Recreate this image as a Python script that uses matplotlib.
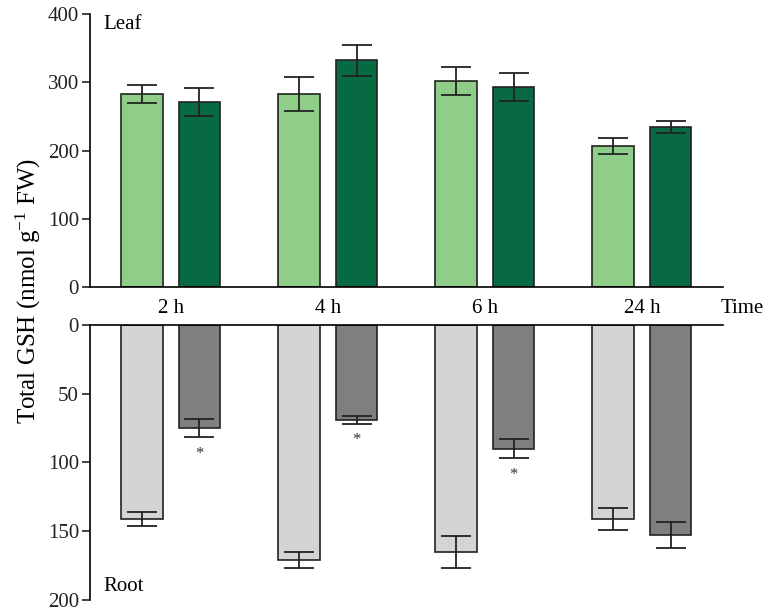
import matplotlib
matplotlib.use("Agg")
import matplotlib.pyplot as plt
import numpy as np

plt.rcParams['font.family'] = ['Liberation Serif', 'DejaVu Serif']
plt.rcParams['mathtext.fontset'] = 'custom'
plt.rcParams['mathtext.rm'] = 'Liberation Serif'
plt.rcParams['mathtext.it'] = 'Liberation Serif:italic'

times = ["2 h", "4 h", "6 h", "24 h"]
leaf_ctrl = [283, 283, 302, 207]
leaf_ctrl_err = [13, 25, 21, 12]
leaf_trt = [271, 332, 293, 235]
leaf_trt_err = [21, 23, 20, 9]
root_ctrl = [141, 171, 165, 141]
root_ctrl_err = [5, 6, 11.5, 8]
root_trt = [75, 69, 90, 152.5]
root_trt_err = [6.5, 3, 7, 9.5]
root_sig = [True, True, True, False]

c_leaf1 = "#8fce89"
c_leaf2 = "#086a42"
c_root1 = "#d4d4d4"
c_root2 = "#7f7f7f"

fig = plt.figure(figsize=(7.7, 6.16), dpi=100)
ax1 = fig.add_axes([0.117, 0.5336, 0.822, 0.4437])
ax2 = fig.add_axes([0.117, 0.026, 0.822, 0.4464])

x = np.arange(len(times))
w = 0.264
off = 0.183
ekw = dict(elinewidth=1.3, capthick=1.3, ecolor="#222222")

ax1.bar(x - off, leaf_ctrl, w, color=c_leaf1, edgecolor="#222222", linewidth=1.2,
        yerr=leaf_ctrl_err, capsize=11, error_kw=ekw, zorder=2)
ax1.bar(x + off, leaf_trt, w, color=c_leaf2, edgecolor="#222222", linewidth=1.2,
        yerr=leaf_trt_err, capsize=11, error_kw=ekw, zorder=2)
ax2.bar(x - off, root_ctrl, w, color=c_root1, edgecolor="#222222", linewidth=1.2,
        yerr=root_ctrl_err, capsize=11, error_kw=ekw, zorder=2)
ax2.bar(x + off, root_trt, w, color=c_root2, edgecolor="#222222", linewidth=1.2,
        yerr=root_trt_err, capsize=11, error_kw=ekw, zorder=2)

for i, s in enumerate(root_sig):
    if s:
        ax2.text(x[i] + off, root_trt[i] + root_trt_err[i] + 12, "*",
                 ha="center", va="center", fontsize=12, color="#333333")

for ax in (ax1, ax2):
    ax.set_xlim(-0.513, 3.516)
    ax.spines['right'].set_visible(False)
    ax.spines['left'].set_linewidth(1.2)
    ax.tick_params(axis='y', direction='out', length=6, width=1.2, labelsize=15, pad=2, colors="#222222")
    ax.tick_params(axis='x', length=0)
    ax.set_xticks([])

ax1.set_ylim(0, 400)
ax1.set_yticks([0, 100, 200, 300, 400])
ax1.spines['top'].set_visible(False)
ax1.spines['bottom'].set_linewidth(1.2)
ax1.text(-0.43, 385, "Leaf", fontsize=15, va="center", ha="left")

ax2.set_ylim(200, 0)
ax2.set_yticks([0, 50, 100, 150, 200])
ax2.spines['bottom'].set_visible(False)
ax2.spines['top'].set_linewidth(1.2)
ax2.text(-0.43, 190, "Root", fontsize=15, va="center", ha="left")

for i, t in enumerate(times):
    ax2.text(x[i], -12, t, ha="center", va="center", fontsize=15, clip_on=False)
ax2.text(3.64, -12, "Time", ha="center", va="center", fontsize=15, clip_on=False)

fig.text(0.037, 0.527, "Total GSH (nmol g$^{-1}$ FW)", rotation=90, ha="center", va="center",
         fontsize=18)

fig.savefig("out.png", dpi=100)
